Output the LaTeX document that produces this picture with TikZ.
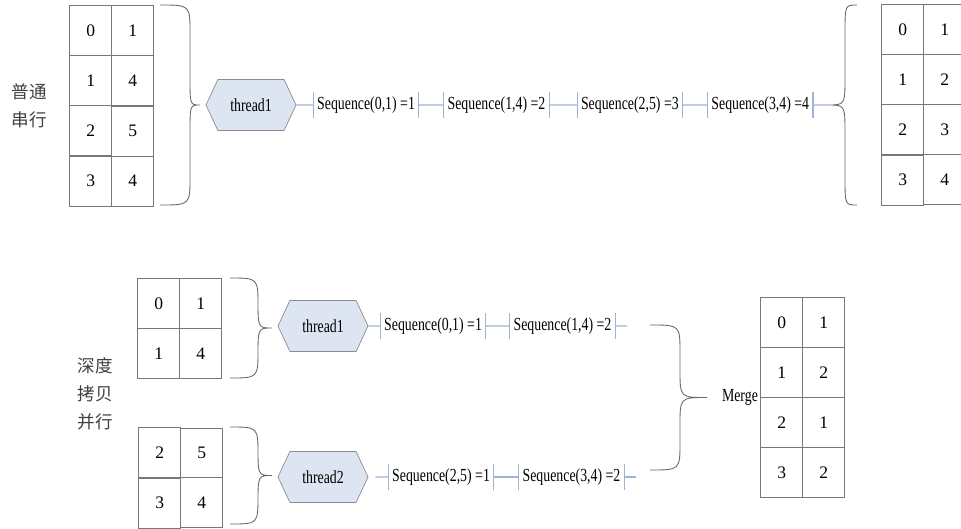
\documentclass[tikz,border=0pt]{standalone}
\usepackage{fontspec}
\setmainfont{Liberation Serif}
\newfontfamily\tabfont{Liberation Serif}
\newfontfamily\narrowfont[FakeStretch=0.75]{Liberation Serif}
\newfontfamily\cjkfont{Noto Sans CJK SC}
\definecolor{gridgray}{RGB}{120,120,120}
\definecolor{bracegray}{RGB}{105,105,105}
\definecolor{threadfill}{RGB}{221,229,242}
\definecolor{threadline}{RGB}{140,140,140}
\definecolor{seqblue}{RGB}{160,178,214}
\usetikzlibrary{shapes.symbols, matrix, positioning}

% curly brace: x of ends, top y, bottom y, x of stem, x of tip, name of tip
\newcommand{\curlybrace}[6]{%
  \draw[brc] (#1,#2) .. controls (#4,#2) .. (#4,{#2+28})
    -- (#4,{(#2+#3)/2-28}) .. controls (#4,{(#2+#3)/2}) .. (#5,{(#2+#3)/2}) coordinate (#6)
    .. controls (#4,{(#2+#3)/2}) .. (#4,{(#2+#3)/2+28})
    -- (#4,{#3-28}) .. controls (#4,#3) .. (#1,#3);}

\begin{document}
\begin{tikzpicture}[
    x=0.02cm, y=-0.02cm,
    cell/.style={draw=gridgray, line width=0.5pt, minimum width=0.84cm, minimum height=1cm,
                 inner sep=0pt, font=\tabfont\fontsize{10}{11}\selectfont},
    numtable/.style={matrix of nodes, nodes={cell}, inner sep=0pt, anchor=north west,
                     column sep=-0.5pt, row sep=-0.5pt},
    thread/.style={signal, signal to=east and west, signal pointer angle=130,
                   draw=threadline, fill=threadfill, minimum width=1.8cm, minimum height=1.02cm,
                   inner sep=1pt, font=\narrowfont\fontsize{10.5}{12}\selectfont},
    seqline/.style={draw=seqblue, line width=0.6pt},
    seqbox/.style={inner xsep=0.07cm, inner ysep=0pt, minimum height=0.52cm,
                   font=\narrowfont\fontsize{10.5}{12}\selectfont,
                   append after command={(\tikzlastnode.north west) edge[seqline] (\tikzlastnode.south west)
                                         (\tikzlastnode.north east) edge[seqline] (\tikzlastnode.south east)}},
    brc/.style={draw=bracegray, line width=0.5pt},
    lbl/.style={font=\cjkfont\fontsize{10}{16}\selectfont, text=black!75, align=center}
  ]
  \useasboundingbox (0,0) rectangle (961,528);

  % serial run
  \matrix[numtable] (serialin) at (69,5) {0 & 1\\ 1 & 4\\ 2 & 5\\ 3 & 4\\};
  \node[lbl] (seriallbl) at (29,106) {普通\\串行};
  \curlybrace{160}{5}{205}{190}{200}{serialin-tip}
  \node[thread] (thr) at (251,105) {thread1};
  \node[seqbox, right=0.34cm of thr] (s1) {Sequence(0,1) =1};
  \node[seqbox, right=0.5cm of s1] (s2) {Sequence(1,4) =2};
  \node[seqbox, right=0.56cm of s2] (s3) {Sequence(2,5) =3};
  \node[seqbox, right=0.5cm of s3] (s4) {Sequence(3,4) =4};
  \curlybrace{857}{5}{205}{845}{827}{serialout-tip}
  \matrix[numtable] (serialout) at (881,4) {0 & 1\\ 1 & 2\\ 2 & 3\\ 3 & 4\\};
  \draw[seqline] (thr) -- (s1) (s1) -- (s2) (s2) -- (s3) (s3) -- (s4) (s4) -- (serialout-tip);

  % deep copy, parallel run
  \matrix[numtable] (copya) at (137,278) {0 & 1\\ 1 & 4\\};
  \matrix[numtable] (copyb) at (138,427) {2 & 5\\ 3 & 4\\};
  \node[lbl] (copylbl) at (95,394) {深度\\拷贝\\并行};
  \curlybrace{230}{278}{378}{258}{272}{copya-tip}
  \curlybrace{230}{427}{524}{258}{272}{copyb-tip}
  \node[thread] (thra) at (323,326) {thread1};
  \node[thread] (thrb) at (323,477) {thread2};
  \node[seqbox, right=0.24cm of thra] (s5) {Sequence(0,1) =1};
  \node[seqbox, right=0.48cm of s5] (s6) {Sequence(1,4) =2};
  \node[seqbox, right=0.4cm of thrb] (s7) {Sequence(2,5) =1};
  \node[seqbox, right=0.5cm of s7] (s8) {Sequence(3,4) =2};
  \coordinate[right=0.24cm of s6] (enda);
  \coordinate[right=0.24cm of s8] (endb);
  \draw[seqline] (thra) -- (s5) (s5) -- (s6) (s6) -- (enda);
  \draw[seqline, shorten <=0.14cm] (thrb) -- (s7);
  \draw[seqline] (s7) -- (s8) (s8) -- (endb);

  % merge step
  \curlybrace{650}{325}{470}{680}{707}{merge-tip}
  \matrix[numtable] (merged) at (760,297) {0 & 1\\ 1 & 2\\ 2 & 1\\ 3 & 2\\};
  \node[anchor=east, inner sep=1pt, font=\narrowfont\fontsize{10.5}{12}\selectfont] (mergelbl) at (merged.west) {Merge};
\end{tikzpicture}
\end{document}
